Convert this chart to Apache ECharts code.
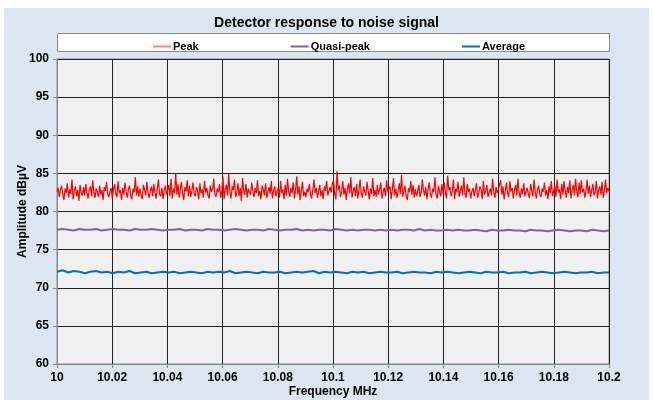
<!DOCTYPE html>
<html><head><meta charset="utf-8">
<script src="https://cdn.jsdelivr.net/npm/echarts@6/dist/echarts.min.js"></script>
<style>html,body{margin:0;padding:0;background:#fff}#c{width:653px;height:407px}</style>
</head><body><div id="c"></div>
<script>
const title = 'Detector response to noise signal';
const xTicks = [10, 10.02, 10.04, 10.06, 10.08, 10.1, 10.12, 10.14, 10.16, 10.18, 10.2];
const freqStart = 10, freqStop = 10.2;
const peak = [
82.6,83.1,81.9,82.8,83.4,82.2,81.5,83.0,82.4,83.7,81.8,82.9,82.3,84.2,81.6,82.7,83.3,82.0,82.8,81.4,83.5,82.5,82.1,83.2,
82.1,83.6,82.4,81.7,82.9,83.3,82.0,84.1,82.5,81.8,83.0,82.6,81.9,83.4,82.2,82.8,81.5,83.2,82.7,83.9,82.3,81.9,82.6,83.1,
81.7,82.9,83.6,82.3,81.9,84.0,82.4,82.8,81.5,83.1,82.2,83.8,82.6,81.8,82.9,83.4,82.0,81.6,83.0,82.5,84.5,82.1,83.3,81.9,
83.0,82.2,81.6,83.5,82.8,82.1,83.9,82.4,81.8,82.7,83.3,82.0,83.6,82.5,81.7,82.9,84.2,82.3,82.0,83.1,81.6,82.8,83.4,82.2,
82.8,83.5,82.0,84.3,81.7,83.0,82.4,85.0,82.2,83.6,81.8,82.9,83.9,82.3,81.5,83.2,82.6,84.1,82.0,83.4,81.9,82.7,83.8,82.3,
82.0,83.2,82.7,81.6,83.7,82.4,82.9,81.8,84.0,82.5,83.1,82.1,81.7,83.4,82.6,82.9,84.3,82.2,81.9,83.0,82.5,83.6,81.8,82.7,
84.6,81.6,82.9,83.5,82.1,84.9,82.5,81.7,83.3,82.8,84.2,81.9,82.4,83.7,82.0,83.1,81.4,84.4,82.7,82.2,83.6,81.8,83.0,82.5,
82.2,83.8,82.6,81.9,83.1,82.4,84.1,82.0,82.7,81.6,83.4,82.9,82.1,83.7,81.8,82.5,83.2,82.3,84.0,81.7,82.8,83.3,82.0,82.6,
83.2,81.8,84.0,82.4,82.9,81.6,83.5,82.1,84.3,82.6,81.9,83.1,82.4,83.8,81.7,82.8,84.6,82.2,83.3,81.5,82.7,83.9,82.0,82.6,
81.9,83.0,82.5,83.6,82.2,81.7,82.9,84.2,82.4,83.1,81.8,82.6,83.5,82.0,82.8,81.6,83.3,82.7,84.0,82.1,81.9,83.2,82.5,83.7,
84.1,82.3,81.6,85.3,82.8,83.4,81.9,82.6,84.0,82.2,83.1,81.5,82.9,83.7,82.4,84.5,81.8,82.7,83.2,82.0,83.6,81.7,82.8,84.2,
82.4,81.8,83.3,82.6,82.1,83.9,82.7,81.6,83.0,82.3,84.4,82.0,82.8,81.9,83.5,82.2,82.9,83.8,81.7,82.5,83.1,82.0,84.1,82.6,
82.5,83.3,81.6,82.9,84.4,82.1,83.0,81.8,82.6,83.7,82.3,84.8,81.9,82.7,83.4,82.0,81.5,83.1,82.6,84.0,82.2,83.5,81.8,82.9,
82.0,82.7,83.5,81.9,82.4,84.2,82.8,82.1,83.2,81.6,82.9,83.8,82.3,81.8,83.0,82.6,84.5,82.2,81.7,83.4,82.5,82.0,83.6,82.3,
83.8,82.4,81.7,84.7,82.8,83.2,82.0,82.6,84.2,81.6,83.0,82.5,83.9,81.9,82.7,83.4,82.1,84.5,82.3,81.8,83.6,82.6,83.0,81.7,
82.6,83.1,82.0,82.8,83.7,81.8,82.4,83.3,82.9,81.6,84.0,82.2,82.7,83.5,81.9,82.5,83.0,82.1,84.3,82.6,81.8,83.2,82.4,82.9,
82.9,84.1,82.2,83.3,81.6,82.7,83.8,82.4,81.9,84.0,82.6,83.1,81.7,82.8,83.5,82.1,84.3,82.5,81.8,83.0,82.3,83.7,82.0,82.6,
83.1,82.3,81.8,83.6,82.7,82.0,84.2,82.5,81.7,82.9,83.4,82.2,81.9,83.0,82.6,83.8,82.1,82.8,81.6,83.3,82.4,84.0,82.0,82.7,
83.4,81.9,84.2,82.5,82.9,81.6,83.6,82.2,84.0,82.7,81.8,83.2,82.4,84.1,81.7,82.9,83.5,82.1,84.3,82.6,81.9,83.8,82.3,84.1,
82.5,83.0,81.8,82.7,84.2,82.3,83.4,81.9,82.8,83.6,82.1,82.6,84.0,81.7,82.9,83.3,82.2,83.9,81.8,82.7,84.2,82.4,83.1,82.6
];
const quasiPeak = [
77.6,77.7,77.6,77.5,77.7,77.6,77.6,77.7,77.5,77.6,77.7,77.6,77.6,77.5,77.7,77.6,77.6,77.7,77.6,77.5,
77.6,77.6,77.7,77.5,77.6,77.6,77.5,77.7,77.6,77.6,77.5,77.6,77.7,77.6,77.5,77.6,77.6,77.5,77.7,77.6,
77.5,77.6,77.6,77.7,77.5,77.6,77.5,77.6,77.6,77.5,77.7,77.6,77.5,77.6,77.5,77.6,77.6,77.5,77.6,77.5,
77.6,77.5,77.6,77.6,77.5,77.7,77.5,77.6,77.5,77.5,77.6,77.5,77.6,77.5,77.5,77.6,77.5,77.4,77.6,77.5,
77.5,77.6,77.5,77.5,77.4,77.6,77.5,77.5,77.4,77.5,77.6,77.5,77.4,77.5,77.5,77.4,77.6,77.5,77.4,77.5
];
const average = [
72.1,72.3,72.0,72.2,72.1,71.9,72.1,72.2,72.0,72.1,71.9,72.1,72.0,72.2,71.9,72.0,72.1,71.9,72.0,72.1,
72.0,72.1,71.9,72.0,72.1,72.0,71.9,72.1,72.0,72.1,72.0,72.2,71.9,72.0,72.1,72.0,71.9,72.1,72.0,72.0,
72.1,71.9,72.0,72.1,72.0,72.1,72.2,71.9,72.1,72.0,72.1,72.0,71.9,72.1,72.0,72.1,71.9,72.0,72.1,72.0,
72.0,72.1,71.9,72.0,72.1,72.0,72.0,71.9,72.1,72.0,72.1,72.0,71.9,72.0,72.1,72.0,71.9,72.1,72.0,72.0,
72.1,71.9,72.0,72.0,72.1,71.9,72.0,72.1,72.0,71.9,72.0,72.1,72.0,71.9,72.0,72.0,72.1,71.9,72.0,72.0
];
function pairs(arr){
  const n = arr.length - 1;
  return arr.map((v,i)=>[freqStart + (freqStop-freqStart)*i/n, v]);
}
const font = 'Liberation Sans, Arial, sans-serif';
const chart = echarts.init(document.getElementById('c'), null, {renderer:'canvas'});
chart.setOption({
  backgroundColor:'#ffffff',
  animation:false,
  graphic:[
    {type:'rect', z:-10, shape:{x:4,y:8,width:645,height:392}, style:{fill:'#dce6f2'}},
    {type:'rect', z:-5, shape:{x:57.5,y:33.5,width:552,height:18}, style:{fill:'#ffffff', stroke:'#8c8c8c', lineWidth:1}}
  ],
  title:{text:title, left:'center', top:11, textStyle:{fontFamily:font, fontSize:14, fontWeight:'bold', color:'#000'}},
  legend:{
    top:36, left:148, itemGap:92, itemWidth:18, itemHeight:2, icon:'rect',
    textStyle:{fontFamily:font, fontSize:11, fontWeight:'bold', color:'#000', padding:[0,0,0,-3]},
    data:['Peak','Quasi-peak','Average']
  },
  grid:{left:57, top:59, right:44, bottom:43, show:true, backgroundColor:'#f0f0f0', borderColor:'#888', borderWidth:1},
  xAxis:{
    type:'value', min:10, max:10.2, interval:0.02,
    name:'Frequency MHz', nameLocation:'middle', nameGap:22, nameMoveOverlap:false,
    nameTextStyle:{fontFamily:font, fontSize:12, fontWeight:'bold', color:'#000'},
    axisLine:{lineStyle:{color:'#888'}},
    axisTick:{show:true, length:4, lineStyle:{color:'#888'}},
    axisLabel:{fontFamily:font, fontSize:12, fontWeight:'bold', color:'#000', margin:8,
      formatter:v=>String(+v.toFixed(2))},
    splitLine:{show:true, lineStyle:{color:'#222', width:1}}
  },
  yAxis:{
    type:'value', min:60, max:100, interval:5,
    name:'Amplitude dBµV', nameLocation:'middle', nameGap:28, nameRotate:90, nameMoveOverlap:false,
    nameTextStyle:{fontFamily:font, fontSize:12, fontWeight:'bold', color:'#000'},
    axisLine:{show:true, lineStyle:{color:'#888'}},
    axisTick:{show:true, length:4, lineStyle:{color:'#888'}},
    axisLabel:{fontFamily:font, fontSize:12, fontWeight:'bold', color:'#000', margin:8},
    splitLine:{show:true, lineStyle:{color:'#222', width:1}}
  },
  series:[
    {name:'Peak', type:'line', data:pairs(peak), showSymbol:false, lineStyle:{color:'#ff0000', width:1.2}, itemStyle:{color:'#ff8080'}},
    {name:'Quasi-peak', type:'line', data:pairs(quasiPeak), showSymbol:false, lineStyle:{color:'#8064a2', width:2}, itemStyle:{color:'#8064a2'}},
    {name:'Average', type:'line', data:pairs(average), showSymbol:false, lineStyle:{color:'#0070c0', width:2}, itemStyle:{color:'#0070c0'}}
  ]
});
</script></body></html>
